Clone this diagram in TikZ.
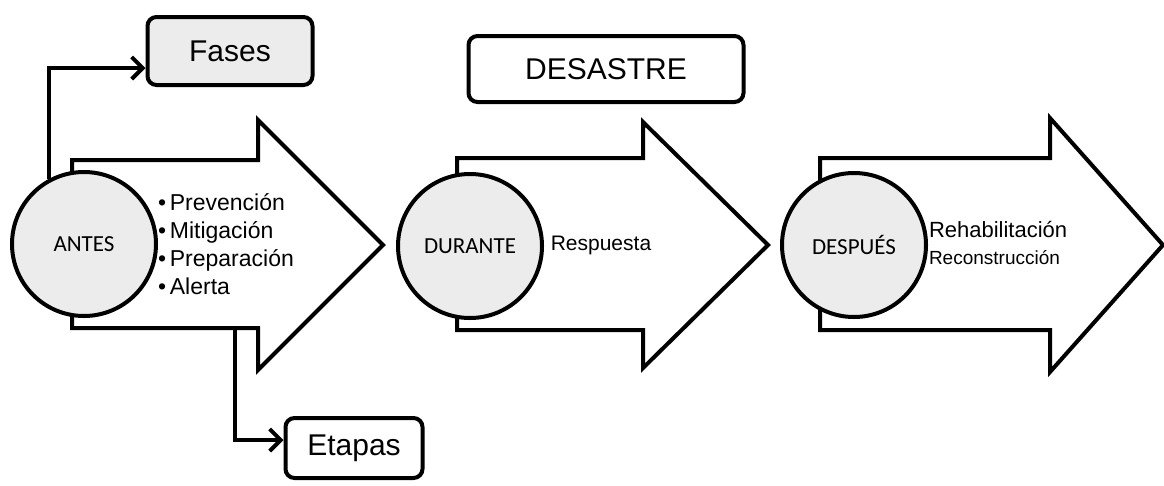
\documentclass[tikz,border=0pt]{standalone}
\usepackage{fontspec}
\setmainfont{Liberation Sans}
\newfontfamily\circfont{Carlito}
\usetikzlibrary{positioning, arrows.meta}

\begin{document}
\begin{tikzpicture}[x=1pt, y=-1pt, line width=4pt,
  stage/.style = {draw, circle, fill=gray!15, minimum size=144pt, inner sep=0pt, font=\circfont\fontsize{23}{24}\selectfont},
  label/.style = {draw, rounded corners=9pt, minimum height=66pt, font=\fontsize{30}{32}\selectfont},
  block/.style = {draw, fill=white, line join=miter},
  txt/.style = {inner sep=0pt, align=left, font=\fontsize{23}{28}\selectfont},
  link/.style = {-{Straight Barb[length=11pt, width=22pt, line width=4pt]}}]
\useasboundingbox (0,0) rectangle (1164,485);

% big arrows
\draw[block] (72,160) -- (258,160) -- (258,120) -- (383,245) -- (258,370) -- (258,328) -- (72,328) -- cycle;
\draw[block] (457,158) -- (643,158) -- (643,122) -- (768,245) -- (643,368) -- (643,330) -- (457,330) -- cycle;
\draw[block] (820,158) -- (1050,158) -- (1050,118) -- (1163,245) -- (1050,372) -- (1050,330) -- (820,330) -- cycle;
\coordinate (down) at (235,330);

\node[stage] (antes) at (84,244) {ANTES};
\node[stage] (durante) at (470,246) {DURANTE};
\node[stage] (despues) at (854,245) {DESPUÉS};

\node[label, fill=gray!15, minimum width=165pt, minimum height=68pt] (fases) at (230,51) {Fases};
\node[label, minimum width=275pt] (desastre) at (606,69) {DESASTRE};
\node[label, minimum width=137pt, minimum height=60pt] (etapas) at (354,448) {Etapas};

\node[txt, anchor=west] (list) at (156,244) {\textbullet\,Prevención\\\textbullet\,Mitigación\\\textbullet\,Preparación\\\textbullet\,Alerta};
\node[txt, font=\fontsize{21}{22}\selectfont] (resp) at (601,245) {Respuesta};
\node[txt, anchor=west, font=\fontsize{22}{24}\selectfont] (rehab) at (927,230) {Rehabilitación};
\node[txt, anchor=west, font=\fontsize{19}{21}\selectfont] (recons) at (927,258) {Reconstrucción};

\draw[link] (antes.118) |- ([yshift=-17pt]fases.west);
\draw[link] (down) |- ([yshift=8pt]etapas.west);
\end{tikzpicture}
\end{document}
